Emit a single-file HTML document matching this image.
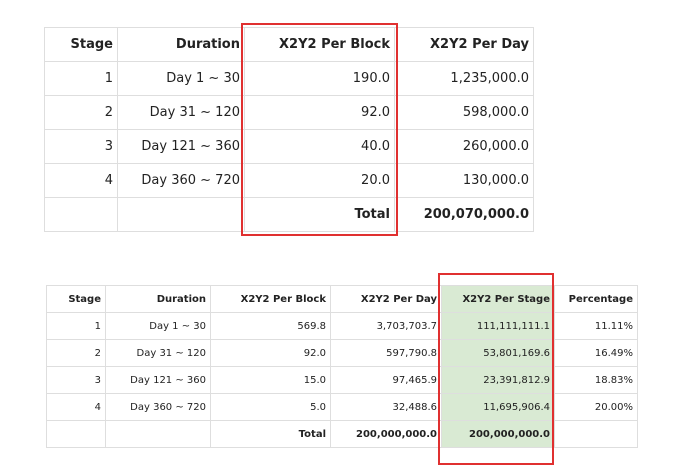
<!DOCTYPE html>
<html><head><style>
body{margin:0;width:677px;height:473px;background:#fff;position:relative;overflow:hidden;font-family:"DejaVu Sans","Liberation Sans",sans-serif;color:#222}
table{position:absolute;border-collapse:collapse;table-layout:fixed}
td,th{border:1px solid #dedede;text-align:right;padding:0 4px 0 0;white-space:nowrap;overflow:visible}
#t1{left:44px;top:27px;font-size:13px}
#t1 td,#t1 th{height:33px}
#t2{left:46px;top:285px;font-size:10px}
#t2 td,#t2 th{height:26px}
th{font-weight:bold}
.b{font-weight:bold}
.g{background:#d9ead3}
.red{position:absolute;border:2px solid #e03030;box-sizing:border-box}
</style></head><body>
<table id="t1">
<colgroup><col style="width:73px"><col style="width:127px"><col style="width:150px"><col style="width:139px"></colgroup>
<tr><th>Stage</th><th>Duration</th><th>X2Y2 Per Block</th><th>X2Y2 Per Day</th></tr>
<tr><td>1</td><td>Day 1 ~ 30</td><td>190.0</td><td>1,235,000.0</td></tr>
<tr><td>2</td><td>Day 31 ~ 120</td><td>92.0</td><td>598,000.0</td></tr>
<tr><td>3</td><td>Day 121 ~ 360</td><td>40.0</td><td>260,000.0</td></tr>
<tr><td>4</td><td>Day 360 ~ 720</td><td>20.0</td><td>130,000.0</td></tr>
<tr><td></td><td></td><td class="b">Total</td><td class="b">200,070,000.0</td></tr>
</table>
<div class="red" style="left:241px;top:23px;width:157px;height:213px"></div>
<table id="t2">
<colgroup><col style="width:59px"><col style="width:105px"><col style="width:120px"><col style="width:111px"><col style="width:113px"><col style="width:83px"></colgroup>
<tr><th>Stage</th><th>Duration</th><th>X2Y2 Per Block</th><th>X2Y2 Per Day</th><th class="g">X2Y2 Per Stage</th><th>Percentage</th></tr>
<tr><td>1</td><td>Day 1 ~ 30</td><td>569.8</td><td>3,703,703.7</td><td class="g">111,111,111.1</td><td>11.11%</td></tr>
<tr><td>2</td><td>Day 31 ~ 120</td><td>92.0</td><td>597,790.8</td><td class="g">53,801,169.6</td><td>16.49%</td></tr>
<tr><td>3</td><td>Day 121 ~ 360</td><td>15.0</td><td>97,465.9</td><td class="g">23,391,812.9</td><td>18.83%</td></tr>
<tr><td>4</td><td>Day 360 ~ 720</td><td>5.0</td><td>32,488.6</td><td class="g">11,695,906.4</td><td>20.00%</td></tr>
<tr><td></td><td></td><td class="b">Total</td><td class="b">200,000,000.0</td><td class="g b">200,000,000.0</td><td></td></tr>
</table>
<div class="red" style="left:438px;top:273px;width:116px;height:192px"></div>
</body></html>
